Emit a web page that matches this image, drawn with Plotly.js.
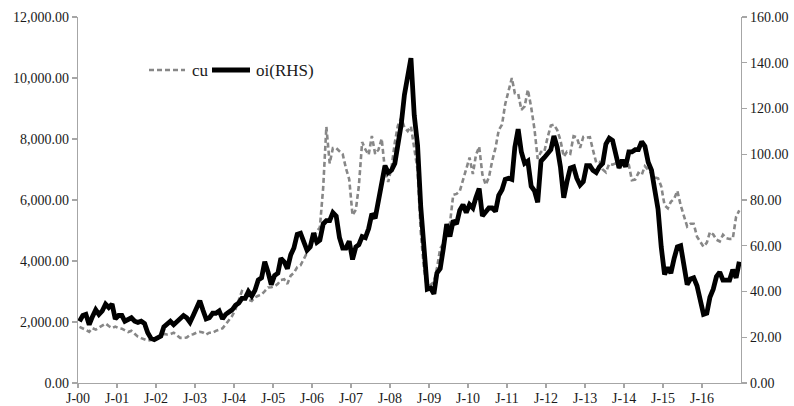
<!DOCTYPE html>
<html>
<head>
<meta charset="utf-8">
<script src="https://cdn.plot.ly/plotly-3.0.1.min.js"></script>
<style>html,body{margin:0;padding:0;background:#fff;}#chart{width:794px;height:406px;}</style>
</head>
<body>
<div id="chart"></div>
<script>
// Monthly series, Jan 2000 .. Dec 2016
const startYear = 2000;
const endYear = 2016;

// Copper price (left axis)
const cu = [
  1840,1800,1740,1680,1800,1750,1810,1870,1950,1870,1800,1850,
  1800,1780,1730,1670,1710,1600,1520,1470,1440,1390,1410,1470,
  1500,1570,1610,1590,1600,1650,1580,1480,1480,1490,1580,1600,
  1650,1680,1660,1590,1650,1650,1710,1760,1790,1920,2060,2200,
  2420,2760,3010,2950,2730,2690,2810,2860,2900,3010,3130,3140,
  3170,3250,3380,3400,3250,3520,3610,3800,3860,4060,4270,4580,
  4730,4980,5100,6400,8400,7200,7700,7700,7600,7500,7030,6680,
  5500,5680,6450,7900,7660,7480,8100,7510,7650,8010,6970,6590,
  7060,7890,8440,8690,8380,8260,8410,7630,6990,4930,3720,3070,
  3220,3320,3750,4410,4570,5010,5220,6170,6200,6290,6680,6980,
  7390,6850,7460,7750,6840,6500,6740,7280,7710,8290,8470,9150,
  9560,10000,9500,9490,8960,9070,9620,9040,8320,7350,7580,7570,
  8040,8440,8470,8290,7960,7420,7580,7520,8090,8060,7710,8070,
  8050,8060,7650,7230,7250,7000,6910,7190,7160,7200,7070,7220,
  7290,7150,6650,6670,6890,6820,7110,7000,6870,6740,6710,6450,
  5830,5730,5940,6040,6300,5830,5460,5130,5220,5220,4800,4640,
  4470,4600,4950,4870,4700,4640,4860,4750,4720,4730,5450,5660
];

// Oil price (right axis)
const oi = [
  27,29.5,30,25.5,29,32,30,31.5,34.5,33,34.5,28,
  29.5,29.5,27,27.5,28.5,27,26.5,27,26,22,19.5,19,
  19.5,20.5,24.5,26,27,25.5,27,28.5,29.5,28.5,26.5,29.5,
  33,36,32,28,28.5,30.5,30.5,31.5,28,30,31,32,
  34,35,37,37,40,38,40.5,45,46,53,48.5,43,
  47,48,54.5,53,50,56,59,65,65.5,62,58,59.5,
  65.5,61.5,62.5,69.5,71,71,74.5,73,63.5,59,59,62,
  54,59.5,60.5,64,63.5,67.5,74,72,80,86,95,92,
  93,96,105,113,126,135,142,117,104,77,57,41,
  41.5,39,48,50,59,69.5,64,71,69.5,75.5,78,74.5,
  78,76.5,81,85,73,75,76.5,76.5,75,82,84.5,89,
  89.5,89,103,111,101,96,97,86,84,79,97,98.5,
  100,102,108,103,94.5,81,88,94,94.5,89.5,86.5,88,
  95,95,93,92,94.5,96,104.5,107,106,100.5,94,97.5,
  94.5,101,101,102,102,105.5,103.5,96.5,93,84.5,76,59.5,
  47.5,50.5,48,54.5,59.5,60,51,43,45.5,46,42.5,37,
  30,30.5,37.5,41,46.5,48.5,45,45,45,49.5,46,53
];

const seriesNames = ["cu", "oi(RHS)"];
const xTickLabels = [];
const xTickVals = [];
for (let y = startYear; y <= endYear; y++) {
  xTickVals.push(y + "-01-01");
  xTickLabels.push("J-" + String(y % 100).padStart(2, "0"));
}

const dates = [];
for (let y = startYear; y <= endYear; y++) {
  for (let m = 1; m <= 12; m++) {
    dates.push(y + "-" + String(m).padStart(2, "0") + "-15");
  }
}

const fontFam = "'Liberation Serif', 'Times New Roman', serif";
const axisCol = "#a6a6a6";
const txtCol = "#1a1a1a";
const cuStyle = {color: "#878787", width: 2.6, dash: "5px,3px"};
const oiStyle = {color: "#000000", width: 4.8};

const traces = [
  {x: dates, y: cu, name: seriesNames[0], type: "scatter", mode: "lines",
   line: cuStyle, yaxis: "y", showlegend: false},
  {x: dates, y: oi, name: seriesNames[1], type: "scatter", mode: "lines",
   line: oiStyle, yaxis: "y2", showlegend: false}
];

// Legend drawn in paper coordinates (plot area spans 663 x 366 px)
const px = v => (v - 78) / 663;
const legY = (383 - 70) / 366;

const layout = {
  width: 794, height: 406,
  margin: {l: 78, r: 53, t: 17, b: 23},
  paper_bgcolor: "#ffffff", plot_bgcolor: "#ffffff",
  font: {family: fontFam, size: 14, color: txtCol},
  showlegend: false,
  shapes: [
    {type: "line", xref: "paper", yref: "paper", x0: px(149), x1: px(185), y0: legY, y1: legY,
     line: {color: cuStyle.color, width: cuStyle.width, dash: cuStyle.dash}},
    {type: "line", xref: "paper", yref: "paper", x0: px(212), x1: px(250), y0: legY, y1: legY,
     line: {color: oiStyle.color, width: oiStyle.width}}
  ],
  annotations: [
    {xref: "paper", yref: "paper", x: px(190), y: legY, xanchor: "left", yanchor: "middle",
     text: seriesNames[0], showarrow: false, font: {family: fontFam, size: 17, color: txtCol}},
    {xref: "paper", yref: "paper", x: px(254), y: legY, xanchor: "left", yanchor: "middle",
     text: seriesNames[1], showarrow: false, font: {family: fontFam, size: 17, color: txtCol}}
  ],
  xaxis: {
    type: "date", range: ["2000-01-01", "2016-12-31"],
    tickvals: xTickVals, ticktext: xTickLabels,
    showgrid: false, zeroline: false,
    showline: true, linecolor: axisCol, linewidth: 1.3,
    ticks: "outside", ticklen: 4, tickcolor: axisCol, tickwidth: 1.3,
    ticklabelstandoff: -2,
    tickfont: {family: fontFam, size: 14, color: txtCol}
  },
  yaxis: {
    range: [0, 12000], dtick: 2000, tick0: 0, tickformat: ",.2f",
    showgrid: false, zeroline: false,
    showline: true, linecolor: axisCol, linewidth: 1.3,
    ticks: "outside", ticklen: 5, tickcolor: axisCol, tickwidth: 1.3,
    tickfont: {family: fontFam, size: 14, color: txtCol}
  },
  yaxis2: {
    range: [0, 160], dtick: 20, tick0: 0, tickformat: ".2f",
    overlaying: "y", side: "right",
    showgrid: false, zeroline: false,
    showline: true, linecolor: axisCol, linewidth: 1.3,
    ticks: "outside", ticklen: 5, tickcolor: axisCol, tickwidth: 1.3,
    tickfont: {family: fontFam, size: 14, color: txtCol}
  }
};

Plotly.newPlot("chart", traces, layout, {displayModeBar: false, staticPlot: true});
</script>
</body>
</html>
